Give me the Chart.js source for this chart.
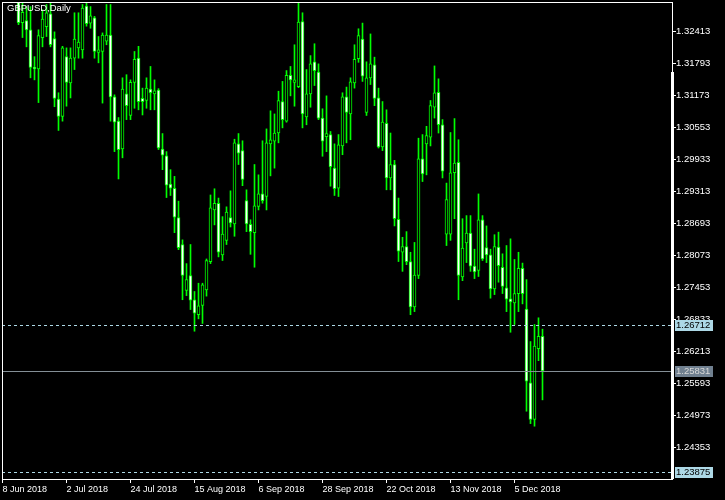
<!DOCTYPE html>
<html>
<head>
<meta charset="utf-8">
<script src="https://cdn.jsdelivr.net/npm/chart.js@4.4.1/dist/chart.umd.min.js"></script>
<style>
  html, body { margin: 0; padding: 0; background: #000; }
  #wrap { width: 725px; height: 500px; }
</style>
</head>
<body>
<div id="wrap"><canvas id="chart" width="725" height="500"></canvas></div>
<script>
// GBPUSD daily bars, 8 Jun 2018 .. 14 Dec 2018 (one entry per bar)
const opens = [
  1.3410, 1.3413, 1.3375, 1.3378, 1.3404, 1.3258, 1.3262, 1.3244, 1.3172, 1.3168,
  1.3229, 1.3250, 1.3275, 1.3227, 1.3110, 1.3076, 1.3192, 1.3141, 1.3189, 1.3209,
  1.3205, 1.3290, 1.3257, 1.3267, 1.3200, 1.3202, 1.3222, 1.3234, 1.3114, 1.3067,
  1.3013, 1.3120, 1.3078, 1.3142, 1.3189, 1.3111, 1.3107, 1.3129, 1.3120, 1.3127,
  1.3013, 1.3000, 1.2945, 1.2937, 1.2880, 1.2828, 1.2739, 1.2768, 1.2721, 1.2692,
  1.2710, 1.2740, 1.2795, 1.2895, 1.2908, 1.2808, 1.2836, 1.2880, 1.2868, 1.3023,
  1.3010, 1.2913, 1.2867, 1.2851, 1.2902, 1.2926, 1.2921, 1.3023, 1.3028, 1.3044,
  1.3105, 1.3067, 1.3156, 1.3142, 1.3134, 1.3260, 1.3075, 1.3120, 1.3182, 1.3162,
  1.3073, 1.3037, 1.3041, 1.2976, 1.2937, 1.3019, 1.3114, 1.3081, 1.3141, 1.3188,
  1.3226, 1.3084, 1.3151, 1.3176, 1.3112, 1.3017, 1.3063, 1.2957, 1.2983, 1.2877,
  1.2813, 1.2824, 1.2795, 1.2707, 1.2768, 1.2994, 1.3023, 1.3036, 1.3094, 1.3123,
  1.3060, 1.2848, 1.2848, 1.2967, 1.2987, 1.2765, 1.2831, 1.2850, 1.2786, 1.2778,
  1.2876, 1.2822, 1.2808, 1.2742, 1.2823, 1.2784, 1.2744, 1.2723, 1.2715, 1.2733,
  1.2782, 1.2703, 1.2560, 1.2489, 1.2626, 1.2650
];
const highs = [
  1.3438, 1.3425, 1.3403, 1.3447, 1.3473, 1.3305, 1.3289, 1.3289, 1.3192, 1.3244,
  1.3283, 1.3293, 1.3302, 1.3240, 1.3122, 1.3212, 1.3209, 1.3209, 1.3277, 1.3277,
  1.3293, 1.3363, 1.3289, 1.3270, 1.3231, 1.3238, 1.3293, 1.3293, 1.3118, 1.3074,
  1.3151, 1.3157, 1.3147, 1.3202, 1.3212, 1.3131, 1.3151, 1.3173, 1.3147, 1.3130,
  1.3043, 1.3008, 1.2973, 1.2960, 1.2912, 1.2837, 1.2791, 1.2828, 1.2737, 1.2753,
  1.2753, 1.2800, 1.2924, 1.2936, 1.2918, 1.2882, 1.2901, 1.2932, 1.3032, 1.3043,
  1.3029, 1.2934, 1.2876, 1.2983, 1.2963, 1.3029, 1.3052, 1.3087, 1.3081, 1.3125,
  1.3144, 1.3165, 1.3173, 1.3215, 1.3297, 1.3277, 1.3167, 1.3194, 1.3217, 1.3178,
  1.3091, 1.3116, 1.3047, 1.3023, 1.3041, 1.3122, 1.3133, 1.3151, 1.3215, 1.3246,
  1.3257, 1.3182, 1.3236, 1.3191, 1.3131, 1.3105, 1.3089, 1.3044, 1.2991, 1.2918,
  1.2842, 1.2853, 1.2813, 1.2832, 1.3034, 1.3041, 1.3057, 1.3107, 1.3174, 1.3149,
  1.3070, 1.2947, 1.3045, 1.3072, 1.3031, 1.2878, 1.2884, 1.2884, 1.2819, 1.2926,
  1.2884, 1.2864, 1.2819, 1.2847, 1.2852, 1.2810, 1.2826, 1.2839, 1.2799, 1.2813,
  1.2792, 1.2760, 1.2640, 1.2673, 1.2686, 1.2664
];
const lows = [
  1.3365, 1.3353, 1.3332, 1.3346, 1.3254, 1.3229, 1.3211, 1.3151, 1.3147, 1.3103,
  1.3211, 1.3231, 1.3211, 1.3095, 1.3049, 1.3067, 1.3096, 1.3112, 1.3167, 1.3189,
  1.3189, 1.3251, 1.3247, 1.3189, 1.3180, 1.3102, 1.3215, 1.3067, 1.3008, 1.2955,
  1.2996, 1.3070, 1.3070, 1.3092, 1.3089, 1.3079, 1.3092, 1.3089, 1.3089, 1.3012,
  1.2973, 1.2919, 1.2923, 1.2851, 1.2818, 1.2721, 1.2729, 1.2702, 1.2660, 1.2684,
  1.2675, 1.2728, 1.2791, 1.2866, 1.2804, 1.2797, 1.2828, 1.2862, 1.2844, 1.2983,
  1.2942, 1.2853, 1.2809, 1.2784, 1.2895, 1.2908, 1.2895, 1.2961, 1.2976, 1.3025,
  1.3054, 1.3065, 1.3116, 1.3096, 1.3132, 1.3054, 1.3060, 1.3094, 1.3136, 1.3070,
  1.2999, 1.3008, 1.2941, 1.2923, 1.2921, 1.3002, 1.3025, 1.3031, 1.3131, 1.3181,
  1.3144, 1.3078, 1.3138, 1.3097, 1.3015, 1.3010, 1.2934, 1.2934, 1.2864, 1.2795,
  1.2776, 1.2789, 1.2692, 1.2698, 1.2762, 1.2950, 1.2963, 1.3019, 1.3073, 1.3044,
  1.2957, 1.2826, 1.2836, 1.2878, 1.2721, 1.2758, 1.2793, 1.2776, 1.2762, 1.2766,
  1.2797, 1.2793, 1.2724, 1.2731, 1.2755, 1.2733, 1.2698, 1.2658, 1.2673, 1.2698,
  1.2713, 1.2505, 1.2481, 1.2476, 1.2603, 1.2527
];
const closes = [
  1.3413, 1.3375, 1.3378, 1.3404, 1.3258, 1.3278, 1.3244, 1.3171, 1.3168, 1.3233,
  1.3265, 1.3277, 1.3215, 1.3111, 1.3076, 1.3209, 1.3142, 1.3189, 1.3226, 1.3220,
  1.3286, 1.3256, 1.3271, 1.3202, 1.3205, 1.3234, 1.3234, 1.3114, 1.3065, 1.3012,
  1.3129, 1.3097, 1.3142, 1.3187, 1.3105, 1.3105, 1.3131, 1.3122, 1.3126, 1.3015,
  1.3001, 1.2943, 1.2937, 1.2881, 1.2822, 1.2768, 1.2760, 1.2720, 1.2695, 1.2709,
  1.2750, 1.2797, 1.2899, 1.2908, 1.2813, 1.2848, 1.2891, 1.2870, 1.3025, 1.3005,
  1.2954, 1.2868, 1.2853, 1.2903, 1.2926, 1.2913, 1.3025, 1.3031, 1.3044, 1.3107,
  1.3070, 1.3156, 1.3147, 1.3147, 1.3259, 1.3081, 1.3120, 1.3178, 1.3165, 1.3073,
  1.3028, 1.3043, 1.2979, 1.2936, 1.3021, 1.3114, 1.3084, 1.3143, 1.3187, 1.3233,
  1.3154, 1.3151, 1.3178, 1.3111, 1.3017, 1.3065, 1.2957, 1.2983, 1.2878, 1.2815,
  1.2824, 1.2795, 1.2707, 1.2769, 1.2994, 1.2965, 1.3039, 1.3097, 1.3122, 1.3060,
  1.2970, 1.2915, 1.2967, 1.2986, 1.2768, 1.2821, 1.2850, 1.2786, 1.2775, 1.2876,
  1.2800, 1.2808, 1.2742, 1.2824, 1.2787, 1.2747, 1.2722, 1.2717, 1.2733, 1.2782,
  1.2733, 1.2563, 1.2489, 1.2631, 1.2650, 1.25831
];

// one date label every 16 bars
const dateTicks = ['8 Jun 2018', '2 Jul 2018', '24 Jul 2018', '15 Aug 2018', '6 Sep 2018',
                   '28 Sep 2018', '22 Oct 2018', '13 Nov 2018', '5 Dec 2018'];
const priceTicks = [1.24353, 1.24973, 1.25593, 1.26213, 1.26833, 1.27453, 1.28073,
                    1.28693, 1.29313, 1.29933, 1.30553, 1.31173, 1.31793, 1.32413];

const askPrice = 1.26712;
const bidPrice = 1.25831;
const lowPrice = 1.23875;

const LIME = '#00ff00';
const FONT = 'Liberation Sans, Arial, sans-serif';

const overlay = {
    id: 'overlay',
    afterDatasetsDraw(chart) {
        const { ctx, chartArea: a, scales: { y } } = chart;
        ctx.save();
        // price lines
        ctx.lineWidth = 1;
        ctx.setLineDash([3, 3]);
        ctx.strokeStyle = '#add8e6';
        [askPrice, lowPrice].forEach(p => {
            const py = Math.round(y.getPixelForValue(p)) + 0.5;
            ctx.beginPath(); ctx.moveTo(a.left, py); ctx.lineTo(a.right, py); ctx.stroke();
        });
        ctx.setLineDash([]);
        ctx.strokeStyle = '#848f96';
        const by = Math.round(y.getPixelForValue(bidPrice)) + 0.5;
        ctx.beginPath(); ctx.moveTo(a.left, by); ctx.lineTo(a.right, by); ctx.stroke();

        // frame
        ctx.strokeStyle = '#ffffff';
        ctx.strokeRect(a.left + 0.5, a.top + 0.5, a.right - a.left, a.bottom - a.top);
        ctx.fillStyle = '#ffffff';
        ctx.fillRect(a.right - 1, 72, 3, a.bottom - 72);

        // symbol caption
        ctx.font = '9.5px ' + FONT;
        ctx.textBaseline = 'top';
        ctx.textAlign = 'left';
        ctx.fillText('GBPUSD,Daily', 7, 4);
        ctx.restore();
    },
    afterDraw(chart) {
        const { ctx, chartArea: a, scales: { y } } = chart;
        ctx.save();
        ctx.font = '9.5px ' + FONT;
        ctx.textBaseline = 'middle';
        ctx.textAlign = 'left';
        [[askPrice, '#add8e6', '#000000'], [bidPrice, '#708090', '#d8d8d8'], [lowPrice, '#add8e6', '#000000']]
            .forEach(([p, bg, fg]) => {
                const py = Math.round(y.getPixelForValue(p));
                ctx.fillStyle = bg;
                ctx.fillRect(a.right + 3, py - 5, 38, 11);
                ctx.fillStyle = fg;
                ctx.fillText(p.toFixed(5), a.right + 4, py + 0.5);
            });
        ctx.restore();
    }
};

new Chart(document.getElementById('chart'), {
    type: 'bar',
    data: {
        datasets: [
            {   // candle bodies
                data: opens.map((o, i) => ({ x: i, y: [o, closes[i]] })),
                backgroundColor: opens.map((o, i) => closes[i] < o ? '#ffffff' : '#000000'),
                borderColor: LIME,
                borderWidth: 1,
                borderSkipped: false,
                barThickness: 3,
                grouped: false
            },
            {   // wicks
                data: lows.map((l, i) => ({ x: i, y: [l, highs[i]] })),
                backgroundColor: LIME,
                borderWidth: 0,
                barThickness: 1,
                grouped: false
            }
        ]
    },
    options: {
        responsive: false,
        animation: false,
        events: [],
        layout: { padding: { left: 2, top: 2, right: 0, bottom: 0 } },
        plugins: { legend: { display: false }, tooltip: { enabled: false } },
        scales: {
            x: {
                type: 'linear',
                offset: false,
                min: -0.125,
                max: 167.375,
                afterBuildTicks: s => { s.ticks = dateTicks.map((_, k) => ({ value: k * 16 })); },
                afterFit: s => { s.height = 21; s.paddingLeft = 0; s.paddingRight = 0; },
                grid: { display: true, offset: false, drawOnChartArea: false, drawTicks: true, tickLength: 4, color: '#ffffff' },
                border: { display: false },
                ticks: {
                    autoSkip: false, maxRotation: 0, align: 'start', padding: 1,
                    color: '#ffffff', font: { family: FONT, size: 9 },
                    callback: v => dateTicks[Math.round(v / 16)]
                }
            },
            y: {
                type: 'linear',
                position: 'right',
                min: 1.237369,
                max: 1.329787,
                afterBuildTicks: s => { s.ticks = priceTicks.map(v => ({ value: v })); },
                afterFit: s => { s.width = 53; s.paddingTop = 0; s.paddingBottom = 0; },
                grid: { display: true, drawOnChartArea: false, drawTicks: true, tickLength: 4, color: '#ffffff' },
                border: { display: false },
                ticks: {
                    padding: 0, color: '#ffffff', font: { family: FONT, size: 9.5 },
                    callback: v => v.toFixed(5)
                }
            }
        }
    },
    plugins: [overlay]
});
</script>
</body>
</html>
